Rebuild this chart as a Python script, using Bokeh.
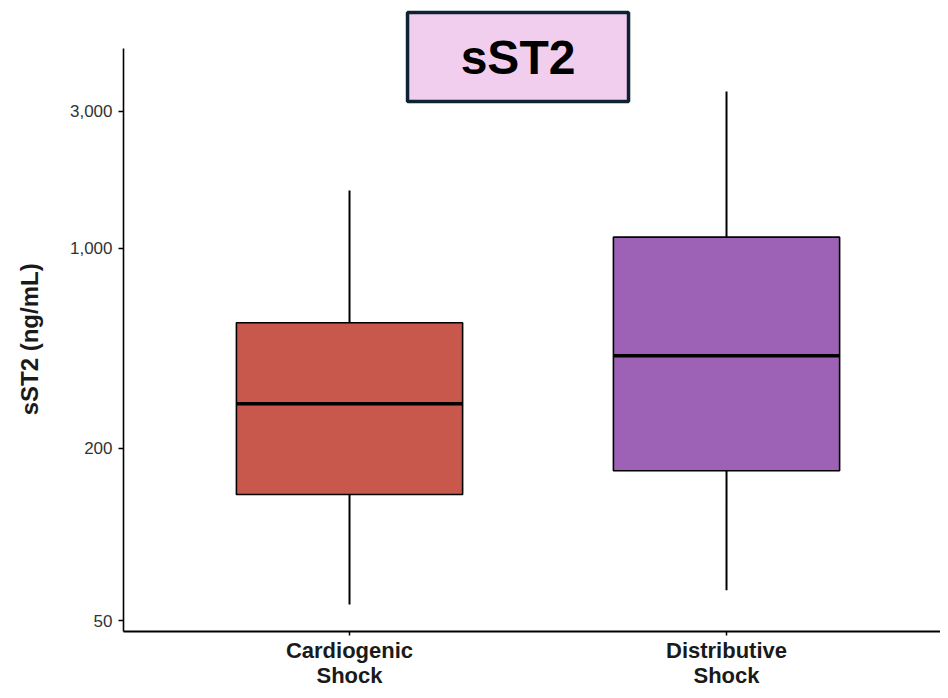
from bokeh.plotting import figure
from bokeh.models import Range1d, FixedTicker, NumeralTickFormatter, LinearAxis
from bokeh.embed import file_html
from bokeh.resources import INLINE
from bokeh.core.properties import value

# ---- data ----
categories = ["Cardiogenic\nShock", "Distributive\nShock"]
whisker_low = [57, 64]
q1 = [138, 167]
median = [286, 421]
q3 = [549, 1092]
whisker_high = [1590, 3520]
box_colors = ["#C8574C", "#9D62B6"]
y_ticks = [50, 200, 1000, 3000]
title_text = "sST2"
y_label = "sST2 (ng/mL)"

FONT = "Liberation Sans"
xs = [i + 1 for i in range(len(categories))]
box_w = 0.6

p = figure(width=940, height=690, y_axis_type="log",
           x_range=Range1d(0.4005, 2.5676), y_range=Range1d(45.9, 7315),
           output_backend="svg", toolbar_location=None,
           min_border_left=123, min_border_right=0, min_border_top=0, min_border_bottom=58)
p.outline_line_color = None
p.xgrid.visible = False
p.ygrid.visible = False
p.background_fill_color = "white"

# whiskers
p.segment(x0=xs, y0=q3, x1=xs, y1=whisker_high, line_color="black", line_width=2)
p.segment(x0=xs, y0=whisker_low, x1=xs, y1=q1, line_color="black", line_width=2)
# boxes
p.vbar(x=xs, bottom=q1, top=q3, width=box_w, fill_color=box_colors,
       line_color="black", line_width=1.6)
# medians
p.segment(x0=[x - box_w / 2 for x in xs], y0=median, x1=[x + box_w / 2 for x in xs], y1=median,
          line_color="black", line_width=3.5)

# title box
p.rect(x=[1.447], y=[4645], width=221, height=89, width_units="screen", height_units="screen",
       fill_color="#F1CEEE", line_color="#0F2233", line_width=3.5)
p.text(x=[1.447], y=[4645], text=[title_text], text_align="center", text_baseline="middle",
       text_font=value(FONT), text_font_size="48px", text_font_style="bold", text_color="black")

# y axis
ya = p.yaxis[0]
ya.ticker = FixedTicker(ticks=y_ticks)
ya.formatter = NumeralTickFormatter(format="0,0")
ya.bounds = (45.9, 4977)
ya.axis_line_color = "black"
ya.axis_line_width = 1.6
ya.major_tick_in = 0
ya.major_tick_out = 5
ya.major_tick_line_width = 1.5
ya.minor_tick_line_color = None
ya.major_label_text_font = FONT
ya.major_label_text_font_size = "17px"
ya.major_label_text_color = "#333333"
ya.major_label_standoff = 6
# label centred on the drawn axis line (which starts below the frame top)
ya.axis_label = y_label + "\u00a0" * 7
ya.axis_label_text_font = FONT
ya.axis_label_text_font_size = "24px"
ya.axis_label_text_font_style = "bold"
ya.axis_label_text_color = "#1a1a1a"
ya.axis_label_standoff = 24

# x axis: first line of each category label
line1 = [c.split("\n")[0] for c in categories]
line2 = [c.split("\n")[1] for c in categories]

xa = p.xaxis[0]
xa.ticker = FixedTicker(ticks=xs)
xa.major_label_overrides = {x: t for x, t in zip(xs, line1)}
xa.axis_line_color = "black"
xa.axis_line_width = 2
xa.major_tick_in = 0
xa.major_tick_out = 4
xa.major_tick_line_width = 1.5
xa.minor_tick_line_color = None
xa.major_label_text_font = FONT
xa.major_label_text_font_size = "22px"
xa.major_label_text_font_style = "bold"
xa.major_label_text_color = "#1a1a1a"
xa.major_label_standoff = 2

# second line of category labels
xa2 = LinearAxis(ticker=FixedTicker(ticks=xs),
                 major_label_overrides={x: t for x, t in zip(xs, line2)})
xa2.axis_line_color = None
xa2.major_tick_line_color = None
xa2.minor_tick_line_color = None
xa2.major_tick_in = 0
xa2.major_tick_out = 0
xa2.major_label_standoff = -3
xa2.major_label_text_font = FONT
xa2.major_label_text_font_size = "22px"
xa2.major_label_text_font_style = "bold"
xa2.major_label_text_color = "#1a1a1a"
p.add_layout(xa2, "below")

open("out.html", "w").write(file_html(p, INLINE))
